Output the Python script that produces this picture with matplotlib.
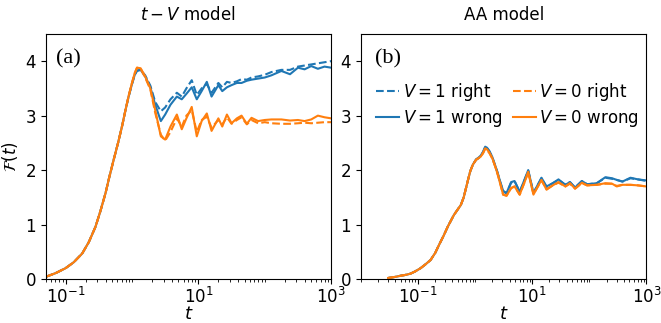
import numpy as np
import matplotlib
matplotlib.use("Agg")
import matplotlib.pyplot as plt
from matplotlib.ticker import FixedLocator, LogLocator, NullFormatter

# t - V model (left panel)
t_tv = [0.05, 0.071, 0.1, 0.133, 0.178, 0.224, 0.282, 0.335, 0.40, 0.457, 0.53, 0.617,
        0.71, 0.794, 0.89, 1.0, 1.10, 1.19, 1.35, 1.58,
        1.89, 2.24, 2.72, 3.16, 3.8, 4.74, 5.62, 6.6, 7.94, 9.46, 11.2, 13.4,
        15.8, 20.0, 22.9, 26.9, 31.6, 38.0, 44.7, 53.7, 63.1, 79.4, 100, 126,
        178, 240, 316, 398, 501, 631, 794, 1000]
tv_v1_right = [0.04, 0.11, 0.20, 0.31, 0.47, 0.68, 0.96, 1.25, 1.58, 1.88, 2.19, 2.50,
               2.81, 3.09, 3.35, 3.58, 3.75, 3.83, 3.84, 3.74,
               3.55, 3.25, 3.08, 3.15, 3.30, 3.42, 3.35, 3.50, 3.65, 3.38, 3.50, 3.58,
               3.42, 3.60, 3.52, 3.62, 3.60, 3.63, 3.67, 3.66, 3.70, 3.72, 3.75, 3.80,
               3.84, 3.84, 3.90, 3.92, 3.94, 3.96, 3.98, 4.00]
tv_v1_wrong = [0.04, 0.11, 0.20, 0.31, 0.47, 0.68, 0.96, 1.25, 1.58, 1.88, 2.19, 2.50,
               2.81, 3.09, 3.35, 3.58, 3.75, 3.82, 3.84, 3.72,
               3.52, 3.20, 2.90, 3.02, 3.20, 3.35, 3.30, 3.40, 3.52, 3.30, 3.45, 3.62,
               3.35, 3.56, 3.45, 3.52, 3.56, 3.60, 3.60, 3.64, 3.66, 3.68, 3.70, 3.74,
               3.82, 3.76, 3.88, 3.85, 3.91, 3.86, 3.90, 3.88]
tv_v0_right = [0.04, 0.11, 0.20, 0.31, 0.47, 0.68, 0.96, 1.25, 1.58, 1.88, 2.19, 2.50,
               2.81, 3.09, 3.36, 3.60, 3.78, 3.88, 3.86, 3.70,
               3.48, 3.05, 2.65, 2.54, 2.70, 2.95, 2.80, 3.00, 3.10, 2.70, 2.92, 2.98,
               2.78, 2.92, 2.84, 2.97, 2.85, 2.92, 2.97, 2.84, 2.92, 2.86, 2.88, 2.86,
               2.85, 2.85, 2.86, 2.87, 2.86, 2.87, 2.88, 2.88]
tv_v0_wrong = [0.04, 0.11, 0.20, 0.31, 0.47, 0.68, 0.96, 1.25, 1.58, 1.88, 2.19, 2.50,
               2.81, 3.09, 3.36, 3.60, 3.78, 3.88, 3.87, 3.72,
               3.50, 3.10, 2.62, 2.56, 2.80, 3.02, 2.75, 2.95, 3.16, 2.62, 2.90, 3.04,
               2.72, 2.95, 2.80, 3.02, 2.86, 2.95, 3.00, 2.85, 2.96, 2.90, 2.92, 2.93,
               2.93, 2.91, 2.92, 2.90, 2.93, 3.00, 2.97, 2.95]

# AA model (right panel)
t_aa = [0.030, 0.040, 0.049, 0.063, 0.074, 0.089, 0.111, 0.135, 0.166, 0.200, 0.234,
        0.282, 0.331, 0.380, 0.427, 0.490, 0.562, 0.631, 0.692, 0.759, 0.822, 0.912,
        1.04, 1.15, 1.26, 1.38, 1.50, 1.62, 1.78, 2.0, 2.19, 2.45, 2.69,
        3.09, 3.55, 4.27, 4.90, 6.03, 7.41, 8.51,
        10.5, 14.5, 17.8, 22.9, 28.8, 38.0, 45.7, 56.2, 74.1, 91.2, 135, 191, 251,
        302, 380, 525, 708, 1000]
aa_v1_right = [0.02, 0.04, 0.06, 0.08, 0.10, 0.14, 0.20, 0.27, 0.35, 0.48, 0.63,
               0.80, 0.96, 1.08, 1.18, 1.27, 1.36, 1.50, 1.67, 1.84, 1.98, 2.10,
               2.19, 2.22, 2.26, 2.33, 2.42, 2.40, 2.34, 2.23, 2.11, 1.96, 1.81,
               1.61, 1.57, 1.77, 1.80, 1.60, 1.83, 1.99,
               1.58, 1.85, 1.69, 1.76, 1.82, 1.73, 1.78, 1.68, 1.80, 1.74, 1.76, 1.86, 1.84,
               1.82, 1.79, 1.85, 1.83, 1.80]
aa_v1_wrong = [0.02, 0.04, 0.06, 0.08, 0.10, 0.14, 0.20, 0.27, 0.35, 0.48, 0.63,
               0.80, 0.96, 1.08, 1.18, 1.27, 1.36, 1.50, 1.67, 1.84, 1.98, 2.10,
               2.20, 2.23, 2.27, 2.34, 2.43, 2.41, 2.35, 2.24, 2.12, 1.97, 1.82,
               1.62, 1.58, 1.78, 1.80, 1.60, 1.84, 2.00,
               1.58, 1.86, 1.70, 1.76, 1.83, 1.73, 1.78, 1.68, 1.80, 1.74, 1.76, 1.87, 1.85,
               1.82, 1.79, 1.86, 1.83, 1.81]
aa_v0_right = [0.02, 0.04, 0.06, 0.08, 0.10, 0.14, 0.20, 0.27, 0.35, 0.48, 0.63,
               0.80, 0.96, 1.08, 1.18, 1.27, 1.36, 1.50, 1.67, 1.84, 1.98, 2.10,
               2.19, 2.22, 2.25, 2.31, 2.39, 2.37, 2.31, 2.21, 2.10, 1.94, 1.79,
               1.55, 1.53, 1.67, 1.70, 1.55, 1.79, 1.96,
               1.56, 1.81, 1.65, 1.72, 1.77, 1.70, 1.75, 1.66, 1.76, 1.72, 1.73, 1.75, 1.75,
               1.71, 1.73, 1.73, 1.72, 1.70]
aa_v0_wrong = [0.02, 0.04, 0.06, 0.08, 0.10, 0.14, 0.20, 0.27, 0.35, 0.48, 0.63,
               0.80, 0.96, 1.08, 1.18, 1.27, 1.36, 1.50, 1.67, 1.84, 1.98, 2.10,
               2.19, 2.22, 2.25, 2.32, 2.40, 2.38, 2.32, 2.22, 2.10, 1.95, 1.79,
               1.55, 1.53, 1.67, 1.70, 1.55, 1.79, 1.97,
               1.55, 1.82, 1.64, 1.72, 1.78, 1.70, 1.76, 1.66, 1.77, 1.72, 1.73, 1.76, 1.75,
               1.70, 1.73, 1.73, 1.72, 1.70]

fig = plt.figure(figsize=(6.61, 3.23), dpi=100)
ax1 = fig.add_axes([0.069, 0.136, 0.432, 0.759])
ax2 = fig.add_axes([0.546, 0.136, 0.432, 0.759])

def draw(ax, t, v1r, v1w, v0r, v0w):
    ax.plot(t, v1r, '--', color='C0', lw=1.5, label=r'$V=1$ right')
    ax.plot(t, v1w, '-', color='C0', lw=1.5, label=r'$V=1$ wrong')
    ax.plot(t, v0r, '--', color='C1', lw=1.5, label=r'$V=0$ right')
    ax.plot(t, v0w, '-', color='C1', lw=1.5, label=r'$V=0$ wrong')
    ax.set_xscale('log')
    ax.set_ylim(0, 4.5)
    ax.set_yticks([0, 1, 2, 3, 4])
    ax.xaxis.set_major_locator(FixedLocator([1e-1, 1e1, 1e3]))
    ax.xaxis.set_minor_locator(LogLocator(base=10, subs=np.arange(1, 10), numticks=20))
    ax.xaxis.set_minor_formatter(NullFormatter())
    ax.tick_params(labelsize=12)
    ax.tick_params(axis='x', pad=2)
    ax.set_xlabel(r'$t$', fontsize=13, labelpad=-1)

draw(ax1, t_tv, tv_v1_right, tv_v1_wrong, tv_v0_right, tv_v0_wrong)
draw(ax2, t_aa, aa_v1_right, aa_v1_wrong, aa_v0_right, aa_v0_wrong)

ax1.set_xlim(0.05, 1000)
ax2.set_xlim(0.01, 1000)

ax1.set_ylabel(r'$\mathcal{F}(t)$', fontsize=12)
ax1.set_title(r'$t-V$ model', fontsize=12, pad=10)
ax2.set_title('AA model', fontsize=12, pad=10)

ax1.text(0.035, 0.90, '(a)', transform=ax1.transAxes, fontsize=16,
         family='Liberation Serif', va='center')
ax2.text(0.05, 0.90, '(b)', transform=ax2.transAxes, fontsize=16,
         family='Liberation Serif', va='center')

ax2.legend(ncol=2, frameon=False, fontsize=12, loc='upper left',
           bbox_to_anchor=(0.03, 0.835), borderaxespad=0,
           handlelength=1.4, handletextpad=0.2, columnspacing=0.6,
           labelspacing=0.3)

fig.savefig('out.png', dpi=100)
